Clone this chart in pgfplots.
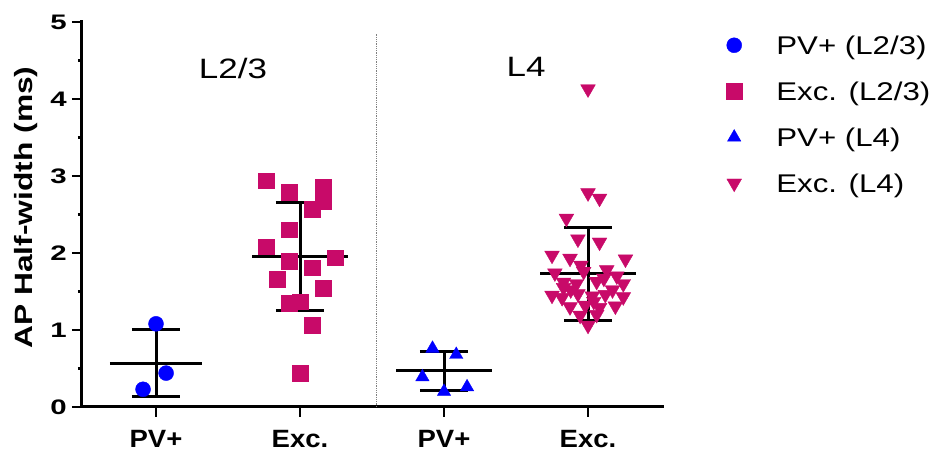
\documentclass[border=0pt]{standalone}
\usepackage{fontspec}
\setmainfont{Liberation Sans}
\newfontfamily\ytfont{Liberation Sans Bold}[FakeStretch=1.4]
\newfontfamily\xtfont{Liberation Sans Bold}[FakeStretch=1.1]
\newfontfamily\ylfont{Liberation Sans Bold}[FakeStretch=1.27]
\newfontfamily\legfont{Liberation Sans}[FakeStretch=1.22]
\newfontfamily\lblfont{Liberation Sans}[FakeStretch=1.25]
\usepackage{pgfplots}
\pgfplotsset{compat=1.18}
\definecolor{exc}{RGB}{200,10,105}
\definecolor{pv}{RGB}{0,0,255}

\begin{document}
\begin{tikzpicture}
\useasboundingbox (-82pt,-47pt) rectangle (853pt,407pt);
\begin{axis}[
  x=144pt, y=77pt,
  xmin=-0.514, xmax=3.52, ymin=0, ymax=5,
  axis x line=bottom, axis y line=left,
  axis line style={-, line width=3pt, line cap=rect},
  clip=false,
  xtick={0,1,2,3}, xticklabels={PV+,Exc.,PV+,Exc.},
  ytick={0,1,2,3,4,5}, minor ytick={0.5,1.5,2.5,3.5,4.5},
  tick align=outside, major tick length=10pt, minor tick length=4pt,
  every tick/.style={black, line width=2.5pt},
  /pgf/number format/assume math mode=true,
  yticklabel style={font=\fontsize{21}{21}\ytfont, anchor=east, inner sep=0pt, xshift=-5pt},
  xticklabel style={font=\fontsize{25}{25}\xtfont, anchor=north, inner sep=0pt, yshift=-13pt},
  ylabel={AP Half-width (ms)},
  ylabel style={font=\fontsize{25}{25}\ylfont, at={(axis description cs:-0.0955,0.518)}, anchor=center},
  legend style={at={(axis description cs:1.109,0.964)}, anchor=north west, draw=none, fill=none, inner sep=0pt, row sep=27.6pt, column sep=34.4pt, font=\fontsize{25.6}{28}\legfont, nodes={inner sep=0pt, text height=18.4pt, text depth=0pt}},
  legend cell align=left,
]
\addplot[only marks, mark=*, mark size=7.5pt, color=pv] coordinates {
  (0.0,1.08) (0.07,0.44) (-0.09,0.23)
};
\addlegendentry{PV+ (L2/3)}
\addplot[only marks, mark=square*, mark size=7.8pt, color=exc] coordinates {
  (0.764,2.94) (0.924,2.79) (1.16,2.86) (1.16,2.67) (1.083,2.57)
  (0.924,2.30) (0.764,2.08) (1.243,1.94) (0.924,1.89) (1.083,1.81)
  (0.84,1.66) (1.16,1.54) (0.924,1.35) (1.0,1.37) (1.083,1.06) (1.0,0.44)
};
\addlegendentry{Exc. (L2/3)}
\addplot[only marks, mark=triangle*, mark size=7.7pt, color=pv] coordinates {
  (1.92,0.76) (2.085,0.68) (1.85,0.39) (2.0,0.20) (2.16,0.26)
};
\addlegendentry{PV+ (L4)}
\addplot[only marks, mark=triangle*, mark size=8.5pt, color=exc, mark options={rotate=180}] coordinates {
  (3.0,4.13) (3.0,2.78) (3.08,2.71) (2.85,2.45) (2.93,2.18) (3.08,2.14)
  (2.75,1.97) (2.875,1.93) (3.26,1.92)
  (2.77,1.74) (2.97,1.76) (3.13,1.78) (3.2,1.70)
  (2.83,1.62) (2.92,1.60) (3.06,1.63) (3.245,1.60)
  (2.75,1.45) (2.82,1.42) (2.93,1.47) (3.03,1.44) (3.12,1.46) (3.245,1.43)
  (2.875,1.30) (2.98,1.32) (3.08,1.29) (3.19,1.31)
  (2.945,1.19) (3.06,1.20) (3.0,1.06)
  (2.95,1.84) (3.11,1.67) (2.88,1.52) (3.04,1.37) (2.83,1.55) (3.17,1.52)
};
\addlegendentry{Exc. (L4)}
% divider
\addplot[forget plot, gray, densely dotted, line width=0.8pt] coordinates {(1.53,0) (1.53,4.86)};
% mean and SD: PV+ L2/3
\addplot[forget plot, black, line width=3pt] coordinates {(-0.32,0.57) (0.32,0.57)};
\addplot[forget plot, black, line width=3pt] coordinates {(0,0.14) (0,1.01)};
\addplot[forget plot, black, line width=3pt] coordinates {(-0.167,1.01) (0.167,1.01)};
\addplot[forget plot, black, line width=3pt] coordinates {(-0.167,0.14) (0.167,0.14)};
% Exc L2/3
\addplot[forget plot, black, line width=3pt] coordinates {(0.67,1.95) (1.33,1.95)};
\addplot[forget plot, black, line width=3pt] coordinates {(1,1.25) (1,2.66)};
\addplot[forget plot, black, line width=3pt] coordinates {(0.833,2.66) (1.167,2.66)};
\addplot[forget plot, black, line width=3pt] coordinates {(0.833,1.25) (1.167,1.25)};
% PV+ L4
\addplot[forget plot, black, line width=3pt] coordinates {(1.67,0.47) (2.33,0.47)};
\addplot[forget plot, black, line width=3pt] coordinates {(2,0.22) (2,0.72)};
\addplot[forget plot, black, line width=3pt] coordinates {(1.833,0.72) (2.167,0.72)};
\addplot[forget plot, black, line width=3pt] coordinates {(1.833,0.22) (2.167,0.22)};
% Exc L4
\addplot[forget plot, black, line width=3pt] coordinates {(2.67,1.73) (3.33,1.73)};
\addplot[forget plot, black, line width=3pt] coordinates {(3,1.12) (3,2.33)};
\addplot[forget plot, black, line width=3pt] coordinates {(2.833,2.33) (3.167,2.33)};
\addplot[forget plot, black, line width=3pt] coordinates {(2.833,1.12) (3.167,1.12)};
\node[font=\fontsize{28}{28}\lblfont, anchor=base] at (axis cs:0.535,4.27) {L2/3};
\node[font=\fontsize{28}{28}\lblfont, anchor=base] at (axis cs:2.57,4.29) {L4};
\end{axis}
\end{tikzpicture}
\end{document}
